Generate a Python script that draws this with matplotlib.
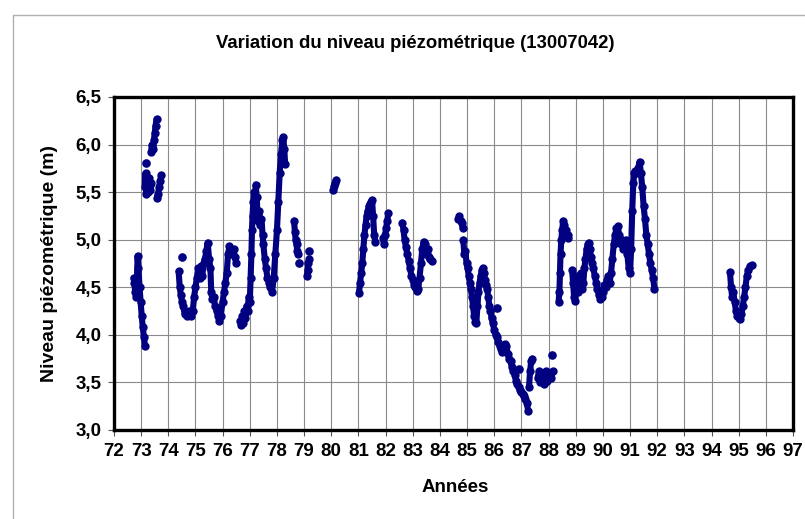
import numpy as np
import matplotlib
matplotlib.use("Agg")
import matplotlib.pyplot as plt
from matplotlib.patches import Rectangle

# ---- data (years as 2-digit, level in m) ----
an_1 = [72.72, 72.75, 72.78, 72.81, 72.84, 72.87, 72.9, 72.94, 72.98, 73.02, 73.06, 73.1, 73.14]
niv_1 = [4.60, 4.55, 4.45, 4.40, 4.55, 4.83, 4.70, 4.50, 4.35, 4.20, 4.08, 3.98, 3.88]

an_2 = [73.13, 73.16, 73.19, 73.22, 73.25, 73.28, 73.31, 73.34, 73.37]
niv_2 = [5.55, 5.70, 5.48, 5.62, 5.50, 5.65, 5.58, 5.52, 5.60]

an_3 = [73.36, 73.40, 73.44, 73.47, 73.50, 73.53, 73.57]
niv_3 = [5.92, 6.00, 5.95, 6.05, 6.12, 6.20, 6.27]

an_4 = [73.58, 73.62, 73.66, 73.70, 73.74]
niv_4 = [5.44, 5.48, 5.55, 5.62, 5.68]

an_5 = [74.38, 74.42, 74.46, 74.5, 74.55, 74.6, 74.68, 74.75, 74.82, 74.9, 74.95, 75.0,
        75.05, 75.1, 75.15, 75.2, 75.25, 75.3, 75.35, 75.4, 75.45, 75.5, 75.55, 75.58,
        75.62, 75.68, 75.72, 75.78, 75.83, 75.88, 75.93, 76.0, 76.05, 76.1, 76.15, 76.2,
        76.25, 76.3, 76.35, 76.4, 76.45, 76.5]
niv_5 = [4.67, 4.50, 4.42, 4.35, 4.30, 4.22, 4.20, 4.25, 4.20, 4.25, 4.40, 4.50,
         4.60, 4.70, 4.60, 4.72, 4.62, 4.75, 4.80, 4.88, 4.97, 4.80, 4.70, 4.45,
         4.38, 4.40, 4.30, 4.25, 4.20, 4.15, 4.20, 4.35, 4.45, 4.55, 4.65, 4.85,
         4.93, 4.88, 4.85, 4.90, 4.82, 4.75]

an_6 = [76.64, 76.68, 76.72, 76.76, 76.8, 76.84, 76.88, 76.92, 76.96, 77.0, 77.03, 77.06,
        77.08, 77.1, 77.13, 77.16, 77.19, 77.22, 77.25, 77.28, 77.31, 77.35, 77.39, 77.43,
        77.47, 77.5, 77.55, 77.6, 77.65, 77.7, 77.75, 77.82, 77.88, 77.94, 78.0, 78.05,
        78.1, 78.15, 78.2, 78.23, 78.27, 78.3]
niv_6 = [4.15, 4.10, 4.20, 4.12, 4.25, 4.18, 4.30, 4.25, 4.40, 4.35, 4.60, 4.85,
         5.10, 5.25, 5.40, 5.50, 5.42, 5.58, 5.45, 5.30, 5.20, 5.30, 5.15, 5.22,
         5.05, 4.95, 4.80, 4.70, 4.60, 4.55, 4.50, 4.45, 4.60, 4.85, 5.10, 5.40,
         5.70, 5.90, 6.05, 6.08, 5.95, 5.80]

an_7 = [78.63, 78.66, 78.69, 78.72, 78.75, 78.78]
niv_7 = [5.20, 5.08, 5.00, 4.95, 4.88, 4.85]

an_8 = [79.1, 79.13, 79.16, 79.19]
niv_8 = [4.62, 4.68, 4.75, 4.80]

an_9 = [80.06, 80.1, 80.14, 80.18]
niv_9 = [5.52, 5.56, 5.60, 5.63]

an_10 = [81.02, 81.06, 81.1, 81.14, 81.18, 81.22, 81.26, 81.3, 81.34, 81.38, 81.42, 81.46,
         81.5, 81.54, 81.58, 81.62]
niv_10 = [4.44, 4.55, 4.65, 4.75, 4.90, 5.05, 5.15, 5.25, 5.30, 5.35, 5.38, 5.40,
          5.42, 5.25, 5.05, 4.98]

an_11 = [81.9, 81.94, 81.98, 82.02, 82.06, 82.1]
niv_11 = [5.02, 4.95, 5.05, 5.12, 5.20, 5.28]

an_12 = [82.62, 82.66, 82.7, 82.75, 82.8, 82.85, 82.9, 82.95, 83.0, 83.05, 83.1, 83.15,
         83.2, 83.25, 83.3, 83.35, 83.4, 83.45, 83.5, 83.55, 83.6, 83.65, 83.7]
niv_12 = [5.18, 5.10, 5.00, 4.92, 4.85, 4.78, 4.70, 4.62, 4.58, 4.52, 4.50, 4.46,
          4.48, 4.60, 4.75, 4.90, 4.98, 4.95, 4.85, 4.90, 4.82, 4.80, 4.78]

an_13 = [84.68, 84.72, 84.76, 84.8, 84.84]
niv_13 = [5.22, 5.25, 5.20, 5.18, 5.12]

an_14 = [84.86, 84.9, 84.94, 84.98, 85.02, 85.06, 85.1, 85.14, 85.18, 85.22, 85.26, 85.3,
         85.34, 85.38, 85.42, 85.46, 85.5, 85.54, 85.58, 85.62, 85.66, 85.7, 85.74, 85.78,
         85.82, 85.86, 85.9, 85.95, 86.0, 86.05, 86.1, 86.15, 86.2, 86.25, 86.3, 86.35,
         86.4, 86.45, 86.5, 86.55, 86.6, 86.65, 86.7, 86.75, 86.8, 86.85, 86.9, 86.95,
         87.0, 87.05, 87.1, 87.15, 87.2, 87.25]
niv_14 = [5.00, 4.85, 4.88, 4.75, 4.70, 4.62, 4.55, 4.48, 4.40, 4.30, 4.20, 4.14,
          4.12, 4.30, 4.45, 4.55, 4.62, 4.68, 4.70, 4.65, 4.58, 4.52, 4.48, 4.40,
          4.30, 4.25, 4.18, 4.12, 4.05, 4.00, 3.98, 3.92, 3.88, 3.85, 3.82, 3.86,
          3.90, 3.88, 3.80, 3.75, 3.72, 3.66, 3.62, 3.58, 3.52, 3.48, 3.45, 3.42,
          3.40, 3.38, 3.36, 3.33, 3.28, 3.20]

an_15 = [87.28, 87.32, 87.36, 87.4]
niv_15 = [3.45, 3.62, 3.72, 3.75]

an_16 = [87.6, 87.65, 87.7, 87.75, 87.8, 87.85, 87.9, 87.95, 88.0, 88.05, 88.1, 88.15]
niv_16 = [3.55, 3.62, 3.50, 3.60, 3.55, 3.48, 3.62, 3.52, 3.58, 3.60, 3.55, 3.62]

an_17 = [88.37, 88.4, 88.42, 88.44, 88.47, 88.5, 88.54, 88.58, 88.62, 88.66, 88.7, 88.73]
niv_17 = [4.35, 4.45, 4.65, 4.85, 5.00, 5.10, 5.20, 5.15, 5.05, 5.10, 5.05, 5.02]

an_18 = [88.87, 88.9, 88.94, 88.97, 89.0, 89.04, 89.08, 89.12, 89.16, 89.2, 89.24, 89.28,
         89.32, 89.36, 89.4, 89.44, 89.48, 89.52, 89.56, 89.6, 89.65, 89.7, 89.75, 89.8,
         89.85, 89.9, 89.95, 90.0, 90.05, 90.1, 90.15, 90.2, 90.25, 90.3, 90.35, 90.4,
         90.45, 90.5, 90.55, 90.6, 90.65, 90.7, 90.75, 90.8, 90.85, 90.9, 90.95, 91.0,
         91.04, 91.08, 91.12, 91.16, 91.2, 91.25, 91.3, 91.35, 91.4, 91.45, 91.5, 91.55,
         91.6, 91.65, 91.7, 91.75, 91.8, 91.85, 91.9]
niv_18 = [4.68, 4.55, 4.40, 4.36, 4.50, 4.62, 4.45, 4.60, 4.50, 4.65, 4.48, 4.55,
          4.70, 4.80, 4.90, 4.95, 4.97, 4.90, 4.82, 4.75, 4.70, 4.62, 4.55, 4.48,
          4.42, 4.38, 4.40, 4.45, 4.52, 4.50, 4.58, 4.62, 4.55, 4.65, 4.80, 4.95,
          5.05, 5.12, 5.14, 5.05, 4.95, 5.00, 4.90, 4.95, 5.00, 4.85, 4.70, 4.65,
          4.90, 5.30, 5.60, 5.70, 5.72, 5.70, 5.75, 5.82, 5.70, 5.55, 5.35, 5.22,
          5.05, 4.95, 4.85, 4.75, 4.68, 4.60, 4.48]

an_19 = [94.68, 94.72, 94.76, 94.8, 94.85, 94.9, 94.95, 95.0, 95.05, 95.1, 95.15, 95.2,
         95.25, 95.3, 95.35, 95.42, 95.48]
niv_19 = [4.66, 4.50, 4.40, 4.45, 4.35, 4.25, 4.20, 4.18, 4.17, 4.22, 4.30, 4.40,
          4.50, 4.62, 4.68, 4.72, 4.73]

# isolated measurements
an_pts = [73.18, 74.52, 78.8, 79.18, 86.11, 86.93, 88.14]
niv_pts = [5.81, 4.82, 4.75, 4.88, 4.28, 3.64, 3.79]

segments = [(an_1, niv_1), (an_2, niv_2), (an_3, niv_3), (an_4, niv_4), (an_5, niv_5),
            (an_6, niv_6), (an_7, niv_7), (an_8, niv_8), (an_9, niv_9), (an_10, niv_10),
            (an_11, niv_11), (an_12, niv_12), (an_13, niv_13), (an_14, niv_14),
            (an_15, niv_15), (an_16, niv_16), (an_17, niv_17), (an_18, niv_18),
            (an_19, niv_19)]

x_ticks = list(range(72, 98))
x_labels = [str(v) for v in x_ticks]
y_ticks = [3.0, 3.5, 4.0, 4.5, 5.0, 5.5, 6.0, 6.5]
y_labels = ["3,0", "3,5", "4,0", "4,5", "5,0", "5,5", "6,0", "6,5"]

# ---- figure ----
plt.rcParams['font.family'] = ['Liberation Sans', 'DejaVu Sans']
fig = plt.figure(figsize=(8.05, 5.19), dpi=100)
fig.patch.set_facecolor('white')

# outer chart border (only left and top visible)
fig.patches.append(Rectangle((13 / 805, -0.5), 2.0, 1.5 - 15 / 519,
                             transform=fig.transFigure, fill=False,
                             edgecolor='#b0b0b0', linewidth=1.0))

ax = fig.add_axes([114 / 805, 1 - 430 / 519, (793 - 114) / 805, (430 - 97) / 519])
navy = '#000080'
for xs, ys in segments:
    ax.plot(xs, ys, '-', color=navy, lw=4.4, marker='o', ms=5.0,
            solid_capstyle='round', solid_joinstyle='round', zorder=3)
ax.plot(an_pts, niv_pts, 'o', color=navy, ms=5.2, zorder=3)

ax.set_xlim(72, 97)
ax.set_ylim(3.0, 6.5)
ax.set_xticks(x_ticks)
ax.set_xticklabels(x_labels)
ax.set_yticks(y_ticks)
ax.set_yticklabels(y_labels)
ax.grid(True, color='#8a8a8a', linewidth=0.8, zorder=0)
ax.set_axisbelow(True)
for s in ax.spines.values():
    s.set_linewidth(2.4)
    s.set_color('black')
ax.tick_params(axis='both', direction='out', length=4, width=0.8, color='#555555',
               labelsize=13.5, pad=5)
for lab in ax.get_xticklabels() + ax.get_yticklabels():
    lab.set_fontweight('bold')

fig.text(455 / 805, 1 - 488 / 519, 'Années', ha='center', va='center',
         fontsize=13.5, fontweight='bold')
fig.text(50 / 805, 1 - 263 / 519, 'Niveau piézométrique (m)', ha='center', va='center',
         rotation=90, fontsize=14, fontweight='bold')
fig.text(415 / 805, 1 - 43 / 519, 'Variation du niveau piézométrique (13007042)',
         ha='center', va='center', fontsize=13.3, fontweight='bold')

fig.savefig('out.png', dpi=100, facecolor='white')
